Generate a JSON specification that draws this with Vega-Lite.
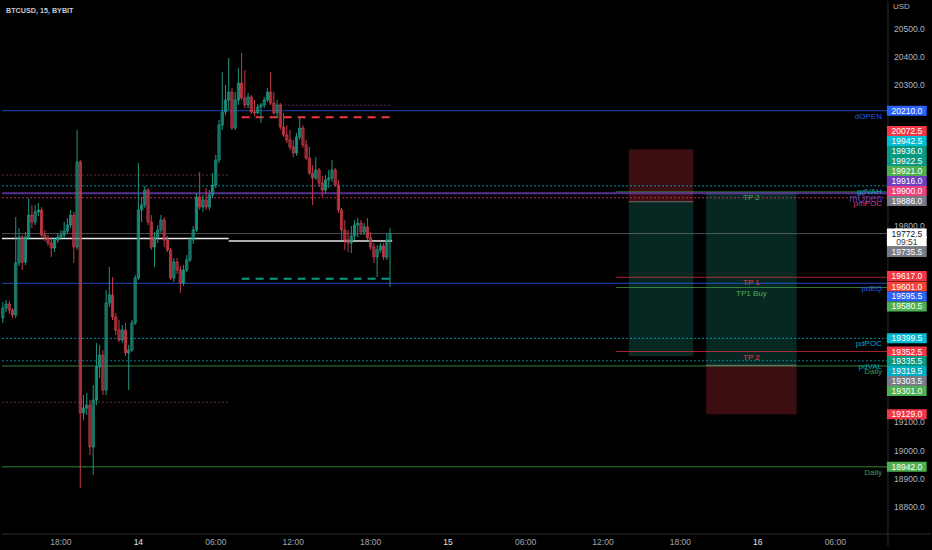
{
  "$schema": "https://vega.github.io/schema/vega-lite/v6.json",
  "width": 932,
  "height": 550,
  "padding": 0,
  "autosize": {"type": "fit", "contains": "padding"},
  "background": "#000000",
  "title": {"text": "BTCUSD, 15, BYBIT", "anchor": "start", "frame": "group", "orient": "top", "offset": -14, "dx": 5, "fontSize": 7.2, "fontWeight": "bold", "font": "Liberation Sans", "color": "#c8cbd3"},
  "config": {"view": {"stroke": null}, "font": "Liberation Sans"},
  "datasets": {
    "candles": [
      {"t":"2022-10-13T13:30Z","o":19472,"h":19529,"l":19454,"c":19507.5},
      {"t":"2022-10-13T13:45Z","o":19507.5,"h":19536,"l":19493,"c":19522},
      {"t":"2022-10-13T14:00Z","o":19522,"h":19532,"l":19486,"c":19500},
      {"t":"2022-10-13T14:15Z","o":19500,"h":19507.5,"l":19472,"c":19482.5},
      {"t":"2022-10-13T14:30Z","o":19482.5,"h":19831.5,"l":19472,"c":19668},
      {"t":"2022-10-13T14:45Z","o":19668,"h":19792,"l":19657,"c":19760},
      {"t":"2022-10-13T15:00Z","o":19760,"h":19767.5,"l":19643,"c":19671},
      {"t":"2022-10-13T15:15Z","o":19671,"h":19778,"l":19660.5,"c":19760},
      {"t":"2022-10-13T15:30Z","o":19760,"h":19899,"l":19750,"c":19838.5},
      {"t":"2022-10-13T15:45Z","o":19838.5,"h":19874,"l":19792,"c":19814},
      {"t":"2022-10-13T16:00Z","o":19814,"h":19874,"l":19803,"c":19849.5},
      {"t":"2022-10-13T16:15Z","o":19849.5,"h":19881.5,"l":19835,"c":19856.5},
      {"t":"2022-10-13T16:30Z","o":19856.5,"h":19867,"l":19760,"c":19767.5},
      {"t":"2022-10-13T16:45Z","o":19767.5,"h":19785,"l":19746,"c":19757},
      {"t":"2022-10-13T17:00Z","o":19757,"h":19767.5,"l":19728,"c":19739},
      {"t":"2022-10-13T17:15Z","o":19739,"h":19757,"l":19689,"c":19721},
      {"t":"2022-10-13T17:30Z","o":19721,"h":19757,"l":19707,"c":19750},
      {"t":"2022-10-13T17:45Z","o":19750,"h":19774.5,"l":19739,"c":19760},
      {"t":"2022-10-13T18:00Z","o":19760,"h":19785,"l":19750,"c":19767.5},
      {"t":"2022-10-13T18:15Z","o":19767.5,"h":19814,"l":19757,"c":19781.5},
      {"t":"2022-10-13T18:30Z","o":19781.5,"h":19828,"l":19771,"c":19803},
      {"t":"2022-10-13T18:45Z","o":19803,"h":19856.5,"l":19792,"c":19838.5},
      {"t":"2022-10-13T19:00Z","o":19838.5,"h":19849.5,"l":19668,"c":19724.5},
      {"t":"2022-10-13T19:15Z","o":19724.5,"h":20141.5,"l":19714,"c":20027.5},
      {"t":"2022-10-13T19:30Z","o":20027.5,"h":20034.5,"l":18866.5,"c":19133.5},
      {"t":"2022-10-13T19:45Z","o":19133.5,"h":19197.5,"l":19108.5,"c":19151.5},
      {"t":"2022-10-13T20:00Z","o":19151.5,"h":19205,"l":19126.5,"c":19162},
      {"t":"2022-10-13T20:15Z","o":19162,"h":19180,"l":18984,"c":19012.5},
      {"t":"2022-10-13T20:30Z","o":19012.5,"h":19233,"l":18913,"c":19180},
      {"t":"2022-10-13T20:45Z","o":19180,"h":19383,"l":19162,"c":19297.5},
      {"t":"2022-10-13T21:00Z","o":19297.5,"h":19376,"l":19258,"c":19340},
      {"t":"2022-10-13T21:15Z","o":19340,"h":19358,"l":19197.5,"c":19215.5},
      {"t":"2022-10-13T21:30Z","o":19215.5,"h":19571.5,"l":19197.5,"c":19525.5},
      {"t":"2022-10-13T21:45Z","o":19525.5,"h":19653.5,"l":19511,"c":19554},
      {"t":"2022-10-13T22:00Z","o":19554,"h":19618,"l":19465,"c":19475.5},
      {"t":"2022-10-13T22:15Z","o":19475.5,"h":19490,"l":19411.5,"c":19429},
      {"t":"2022-10-13T22:30Z","o":19429,"h":19465,"l":19386.5,"c":19393.5},
      {"t":"2022-10-13T22:45Z","o":19393.5,"h":19447,"l":19383,"c":19429},
      {"t":"2022-10-13T23:00Z","o":19429,"h":19454,"l":19336.5,"c":19347.5},
      {"t":"2022-10-13T23:15Z","o":19347.5,"h":19376,"l":19215.5,"c":19358},
      {"t":"2022-10-13T23:30Z","o":19358,"h":19465,"l":19351,"c":19454},
      {"t":"2022-10-13T23:45Z","o":19454,"h":19625,"l":19447,"c":19614.5},
      {"t":"2022-10-14T00:00Z","o":19614.5,"h":20024,"l":19607,"c":19856.5},
      {"t":"2022-10-14T00:15Z","o":19856.5,"h":19903,"l":19814,"c":19874.5},
      {"t":"2022-10-14T00:30Z","o":19874.5,"h":19942,"l":19863.5,"c":19927.5},
      {"t":"2022-10-14T00:45Z","o":19927.5,"h":19935,"l":19803,"c":19814},
      {"t":"2022-10-14T01:00Z","o":19814,"h":19838.5,"l":19714,"c":19724.5},
      {"t":"2022-10-14T01:15Z","o":19724.5,"h":19778,"l":19653.5,"c":19760},
      {"t":"2022-10-14T01:30Z","o":19760,"h":19803,"l":19739,"c":19785.5},
      {"t":"2022-10-14T01:45Z","o":19785.5,"h":19838.5,"l":19774.5,"c":19821},
      {"t":"2022-10-14T02:00Z","o":19821,"h":19831.5,"l":19724.5,"c":19750},
      {"t":"2022-10-14T02:15Z","o":19750,"h":19764,"l":19707,"c":19714},
      {"t":"2022-10-14T02:30Z","o":19714,"h":19721,"l":19607,"c":19614.5},
      {"t":"2022-10-14T02:45Z","o":19614.5,"h":19685.5,"l":19600,"c":19671.5},
      {"t":"2022-10-14T03:00Z","o":19671.5,"h":19685.5,"l":19628.5,"c":19643},
      {"t":"2022-10-14T03:15Z","o":19643,"h":19657,"l":19561,"c":19596.5},
      {"t":"2022-10-14T03:30Z","o":19596.5,"h":19660.5,"l":19586,"c":19643},
      {"t":"2022-10-14T03:45Z","o":19643,"h":19696,"l":19635.5,"c":19678.5},
      {"t":"2022-10-14T04:00Z","o":19678.5,"h":19760,"l":19671.5,"c":19750},
      {"t":"2022-10-14T04:15Z","o":19750,"h":19799.5,"l":19735.5,"c":19785.5},
      {"t":"2022-10-14T04:30Z","o":19785.5,"h":19917,"l":19778,"c":19903},
      {"t":"2022-10-14T04:45Z","o":19903,"h":19992,"l":19856.5,"c":19867},
      {"t":"2022-10-14T05:00Z","o":19867,"h":19910,"l":19849.5,"c":19892},
      {"t":"2022-10-14T05:15Z","o":19892,"h":19935,"l":19856.5,"c":19867},
      {"t":"2022-10-14T05:30Z","o":19867,"h":19927.5,"l":19856.5,"c":19910},
      {"t":"2022-10-14T05:45Z","o":19910,"h":19988,"l":19899,"c":19945.5},
      {"t":"2022-10-14T06:00Z","o":19945.5,"h":20052.5,"l":19935,"c":20034.5},
      {"t":"2022-10-14T06:15Z","o":20034.5,"h":20177,"l":20024,"c":20159},
      {"t":"2022-10-14T06:30Z","o":20159,"h":20348,"l":20141.5,"c":20205.5},
      {"t":"2022-10-14T06:45Z","o":20205.5,"h":20301.5,"l":20195,"c":20248},
      {"t":"2022-10-14T07:00Z","o":20248,"h":20398,"l":20212.5,"c":20276.5},
      {"t":"2022-10-14T07:15Z","o":20276.5,"h":20291,"l":20141.5,"c":20148.5},
      {"t":"2022-10-14T07:30Z","o":20148.5,"h":20276.5,"l":20141.5,"c":20248},
      {"t":"2022-10-14T07:45Z","o":20248,"h":20362,"l":20230.5,"c":20308.5},
      {"t":"2022-10-14T08:00Z","o":20308.5,"h":20415.5,"l":20248,"c":20255.5},
      {"t":"2022-10-14T08:15Z","o":20255.5,"h":20355,"l":20219.5,"c":20230.5},
      {"t":"2022-10-14T08:30Z","o":20230.5,"h":20273,"l":20219.5,"c":20259},
      {"t":"2022-10-14T08:45Z","o":20259,"h":20266,"l":20198.5,"c":20205.5},
      {"t":"2022-10-14T09:00Z","o":20205.5,"h":20248,"l":20191,"c":20202},
      {"t":"2022-10-14T09:15Z","o":20202,"h":20234,"l":20198.5,"c":20223.5},
      {"t":"2022-10-14T09:30Z","o":20223.5,"h":20237.5,"l":20166.5,"c":20230.5},
      {"t":"2022-10-14T09:45Z","o":20230.5,"h":20259,"l":20219.5,"c":20248},
      {"t":"2022-10-14T10:00Z","o":20248,"h":20291,"l":20241,"c":20276.5},
      {"t":"2022-10-14T10:15Z","o":20276.5,"h":20348,"l":20230.5,"c":20237.5},
      {"t":"2022-10-14T10:30Z","o":20237.5,"h":20276.5,"l":20195,"c":20202},
      {"t":"2022-10-14T10:45Z","o":20202,"h":20248,"l":20184,"c":20230.5},
      {"t":"2022-10-14T11:00Z","o":20230.5,"h":20237.5,"l":20141.5,"c":20152},
      {"t":"2022-10-14T11:15Z","o":20152,"h":20202,"l":20116.5,"c":20123.5},
      {"t":"2022-10-14T11:30Z","o":20123.5,"h":20159,"l":20095,"c":20106},
      {"t":"2022-10-14T11:45Z","o":20106,"h":20141.5,"l":20070,"c":20081},
      {"t":"2022-10-14T12:00Z","o":20081,"h":20106,"l":20045,"c":20059.5},
      {"t":"2022-10-14T12:15Z","o":20059.5,"h":20130.5,"l":20049,"c":20116.5},
      {"t":"2022-10-14T12:30Z","o":20116.5,"h":20184,"l":20106,"c":20148.5},
      {"t":"2022-10-14T12:45Z","o":20148.5,"h":20159,"l":20077.5,"c":20088},
      {"t":"2022-10-14T13:00Z","o":20088,"h":20106,"l":20034.5,"c":20041.5},
      {"t":"2022-10-14T13:15Z","o":20041.5,"h":20081,"l":19981,"c":19988},
      {"t":"2022-10-14T13:30Z","o":19988,"h":20016.5,"l":19874.5,"c":19970.5},
      {"t":"2022-10-14T13:45Z","o":19970.5,"h":20045,"l":19963.5,"c":19999},
      {"t":"2022-10-14T14:00Z","o":19999,"h":20006,"l":19938.5,"c":19952.5},
      {"t":"2022-10-14T14:15Z","o":19952.5,"h":19977.5,"l":19903,"c":19927.5},
      {"t":"2022-10-14T14:30Z","o":19927.5,"h":19981,"l":19917,"c":19963.5},
      {"t":"2022-10-14T14:45Z","o":19963.5,"h":19999,"l":19935,"c":19970.5},
      {"t":"2022-10-14T15:00Z","o":19970.5,"h":20034.5,"l":19956,"c":19999},
      {"t":"2022-10-14T15:15Z","o":19999,"h":20006,"l":19938.5,"c":19945.5},
      {"t":"2022-10-14T15:30Z","o":19945.5,"h":19963.5,"l":19846,"c":19856.5},
      {"t":"2022-10-14T15:45Z","o":19856.5,"h":19863.5,"l":19750,"c":19785.5},
      {"t":"2022-10-14T16:00Z","o":19785.5,"h":19821,"l":19714,"c":19750},
      {"t":"2022-10-14T16:15Z","o":19750,"h":19785.5,"l":19707,"c":19739},
      {"t":"2022-10-14T16:30Z","o":19739,"h":19799.5,"l":19703.5,"c":19764},
      {"t":"2022-10-14T16:45Z","o":19764,"h":19821,"l":19750,"c":19803},
      {"t":"2022-10-14T17:00Z","o":19803,"h":19828,"l":19760,"c":19810},
      {"t":"2022-10-14T17:15Z","o":19810,"h":19821,"l":19767.5,"c":19778},
      {"t":"2022-10-14T17:30Z","o":19778,"h":19810,"l":19767.5,"c":19796},
      {"t":"2022-10-14T17:45Z","o":19796,"h":19828,"l":19750,"c":19757},
      {"t":"2022-10-14T18:00Z","o":19757,"h":19778,"l":19714,"c":19724.5},
      {"t":"2022-10-14T18:15Z","o":19724.5,"h":19739,"l":19668,"c":19689},
      {"t":"2022-10-14T18:30Z","o":19689,"h":19732,"l":19618,"c":19714},
      {"t":"2022-10-14T18:45Z","o":19714,"h":19739,"l":19703.5,"c":19728.5},
      {"t":"2022-10-14T19:00Z","o":19728.5,"h":19739,"l":19678.5,"c":19689},
      {"t":"2022-10-14T19:15Z","o":19689,"h":19774.5,"l":19678.5,"c":19750},
      {"t":"2022-10-14T19:30Z","o":19750,"h":19792.5,"l":19582.5,"c":19772.5}
    ],
    "levels": [
      {"name":"TP2 buy","kind":"target","p":19921,"t":"2022-10-15T13:00Z","t2":"2022-10-16T10:05Z","label":"TP 2"},
      {"name":"TP1 sell","kind":"target","p":19617,"t":"2022-10-15T13:00Z","t2":"2022-10-16T10:05Z","label":"TP 1"},
      {"name":"TP1 buy","kind":"target","p":19580.5,"t":"2022-10-15T13:00Z","t2":"2022-10-16T10:05Z","label":"TP1 Buy"},
      {"name":"TP2 sell","kind":"target","p":19352.5,"t":"2022-10-15T13:00Z","t2":"2022-10-16T10:05Z","label":"TP 2"},
      {"name":"entry","kind":"plan","p":19886,"t":"2022-10-15T14:00Z","t2":"2022-10-15T19:00Z"},
      {"name":"entry","kind":"plan","p":19303.5,"t":"2022-10-15T20:00Z","t2":"2022-10-16T03:00Z"},
      {"name":"dOPEN","kind":"session","p":20210,"t":"2022-10-13T13:26Z","t2":"2022-10-16T10:05Z","label":"dOPEN"},
      {"name":"pdVAH","kind":"profile","p":19942.5,"t":"2022-10-13T13:26Z","t2":"2022-10-16T10:05Z","label":"pdVAH"},
      {"name":"mOpen","kind":"session","p":19916,"t":"2022-10-13T13:26Z","t2":"2022-10-16T10:05Z","label":"mOpen"},
      {"name":"pmPOC","kind":"profile","p":19900,"t":"2022-10-13T13:26Z","t2":"2022-10-16T10:05Z","label":"pmPOC"},
      {"name":"lastline","kind":"session","p":19772.5,"t":"2022-10-13T13:26Z","t2":"2022-10-16T10:05Z"},
      {"name":"pdEQ","kind":"session","p":19595.5,"t":"2022-10-13T13:26Z","t2":"2022-10-16T10:05Z","label":"pdEQ"},
      {"name":"pdPOC","kind":"profile","p":19399.5,"t":"2022-10-13T13:26Z","t2":"2022-10-16T10:05Z","label":"pdPOC"},
      {"name":"pdVAL","kind":"profile","p":19319.5,"t":"2022-10-13T13:26Z","t2":"2022-10-16T10:05Z","label":"pdVAL"},
      {"name":"Daily","kind":"session","p":19301,"t":"2022-10-13T13:26Z","t2":"2022-10-16T10:05Z","label":"Daily"},
      {"name":"DailyLow","kind":"session","p":18942,"t":"2022-10-13T13:26Z","t2":"2022-10-16T10:05Z","label":"Daily"},
      {"name":"range","kind":"range","p":20230,"t":"2022-10-14T11:00Z","t2":"2022-10-14T19:40Z"},
      {"name":"range","kind":"range","p":19981,"t":"2022-10-13T13:26Z","t2":"2022-10-14T07:00Z"},
      {"name":"range","kind":"range","p":19172,"t":"2022-10-13T13:26Z","t2":"2022-10-14T07:00Z"},
      {"name":"sell","kind":"order","p":20187,"t":"2022-10-14T08:00Z","t2":"2022-10-14T19:40Z"},
      {"name":"buy","kind":"order","p":19612,"t":"2022-10-14T08:00Z","t2":"2022-10-14T19:40Z"},
      {"name":"hline","kind":"drawing","p":19755,"t":"2022-10-13T13:26Z","t2":"2022-10-14T07:00Z"},
      {"name":"hline","kind":"drawing","p":19746,"t":"2022-10-14T07:00Z","t2":"2022-10-14T19:40Z"}
    ],
    "tags": [
      {"name":"dOPEN","price":20210,"p":20210},
      {"name":"sstop","price":20072.5,"p":20137.8},
      {"name":"pdVAH","price":19942.5,"p":20102.2},
      {"name":"ema1","price":19936,"p":20066.6},
      {"name":"ema2","price":19922.5,"p":20031},
      {"name":"ltarget","price":19921,"p":19995.4},
      {"name":"mOpen","price":19916,"p":19959.8},
      {"name":"pmPOC","price":19900,"p":19924.2},
      {"name":"sentry","price":19886,"p":19888.6},
      {"name":"last","price":19772.5,"p":19772.5,"countdown":"09:51"},
      {"name":"prev","price":19735.5,"p":19707},
      {"name":"TP1 sell","price":19617,"p":19621.5},
      {"name":"sell2","price":19601,"p":19584},
      {"name":"pdEQ","price":19595.5,"p":19548.5},
      {"name":"TP1 buy","price":19580.5,"p":19512.9},
      {"name":"pdPOC","price":19399.5,"p":19399.5},
      {"name":"TP2 sell","price":19352.5,"p":19352.5},
      {"name":"starget","price":19335.5,"p":19318.8},
      {"name":"pdVAL","price":19319.5,"p":19283.2},
      {"name":"lentry","price":19303.5,"p":19247.6},
      {"name":"Daily","price":19301,"p":19212},
      {"name":"lstop","price":19129,"p":19129},
      {"name":"DailyLow","price":18942,"p":18942}
    ],
    "zones": [
      {"zone":"stop","t":"2022-10-15T14:00Z","t2":"2022-10-15T19:00Z","p":20072.5,"p2":19886},
      {"zone":"target","t":"2022-10-15T14:00Z","t2":"2022-10-15T19:00Z","p":19886,"p2":19335.5},
      {"zone":"target","t":"2022-10-15T20:00Z","t2":"2022-10-16T03:00Z","p":19921,"p2":19303.5},
      {"zone":"stop","t":"2022-10-15T20:00Z","t2":"2022-10-16T03:00Z","p":19303.5,"p2":19129}
    ],
    "yticks": [
      {"p":20500},{"p":20400},{"p":20300},{"p":19800},{"p":19100},{"p":19000},{"p":18900},{"p":18800}
    ],
    "xticks": [
      {"t":"2022-10-13T18:00Z","label":"18:00"},
      {"t":"2022-10-14T00:00Z","label":"14"},
      {"t":"2022-10-14T06:00Z","label":"06:00"},
      {"t":"2022-10-14T12:00Z","label":"12:00"},
      {"t":"2022-10-14T18:00Z","label":"18:00"},
      {"t":"2022-10-15T00:00Z","label":"15"},
      {"t":"2022-10-15T06:00Z","label":"06:00"},
      {"t":"2022-10-15T12:00Z","label":"12:00"},
      {"t":"2022-10-15T18:00Z","label":"18:00"},
      {"t":"2022-10-16T00:00Z","label":"16"},
      {"t":"2022-10-16T06:00Z","label":"06:00"}
    ]
  },
  "layer": [
    {
      "data": {"name": "zones"},
      "mark": {"type": "rect", "opacity": 0.25},
      "encoding": {
        "x": {"field": "t", "type": "temporal", "axis": null, "scale": {"type": "utc", "nice": false, "padding": 0, "domain": [{"year":2022,"month":10,"date":13,"hours":13,"minutes":21,"seconds":22,"utc":true},{"year":2022,"month":10,"date":16,"hours":13,"minutes":29,"seconds":40,"utc":true}]}},
        "x2": {"field": "t2"},
        "y": {"field": "p", "type": "quantitative", "axis": null, "scale": {"domain": [18645.8, 20604.3], "nice": false, "zero": false, "padding": 0}},
        "y2": {"field": "p2"},
        "color": {"condition": {"test": "datum.zone == 'stop'", "value": "#f23645"}, "value": "#1a9e88"}
      }
    },
    {
      "data": {"name": "levels"},
      "mark": {"type": "rule"},
      "encoding": {
        "x": {"field": "t", "type": "temporal", "axis": null, "scale": {"type": "utc", "nice": false, "padding": 0, "domain": [{"year":2022,"month":10,"date":13,"hours":13,"minutes":21,"seconds":22,"utc":true},{"year":2022,"month":10,"date":16,"hours":13,"minutes":29,"seconds":40,"utc":true}]}},
        "x2": {"field": "t2"},
        "y": {"field": "p", "type": "quantitative", "axis": null, "scale": {"domain": [18645.8, 20604.3], "nice": false, "zero": false, "padding": 0}},
        "color": {"field": "name", "type": "nominal", "legend": null, "scale": {"domain": ["dOPEN","pdVAH","mOpen","pmPOC","lastline","pdEQ","pdPOC","pdVAL","Daily","DailyLow","range","sell","buy","hline","TP1 sell","TP1 buy","TP2 sell","TP2 buy","entry","sstop","ema1","ema2","ltarget","sentry","last","prev","sell2","starget","lentry","lstop"], "range": ["#2962ff","#00bcd4","#7040c0","#ec407a","#6a6d78","#2962ff","#00bcd4","#00acc1","#4caf50","#4caf50","#7a4450","#f23645","#089981","#e8e8e8","#f23645","#4caf50","#f23645","#4caf50","#9598a1","#f23645","#089981","#089981","#4caf50","#787b86","#ffffff","#787b86","#f44336","#089981","#787b86","#f23645"]}},
        "strokeDash": {"field": "kind", "type": "nominal", "legend": null, "scale": {"domain": ["session","target","plan","profile","range","order","drawing"], "range": [[1,0],[1,0],[1,0],[2,2],[2,2],[8,6],[1,0]]}},
        "strokeWidth": {"condition": [{"test": "datum.kind == 'order' || datum.name == 'mOpen'", "value": 2}, {"test": "datum.kind == 'drawing'", "value": 1.5}], "value": 1},
        "opacity": {"condition": {"test": "datum.kind == 'order' || datum.kind == 'drawing'", "value": 1}, "value": 0.75}
      }
    },
    {
      "data": {"values": [{"edge": "price axis"}]},
      "mark": {"type": "rule", "color": "#2a2e39", "strokeWidth": 1},
      "encoding": {
        "x": {"datum": {"year":2022,"month":10,"date":16,"hours":10,"minutes":5,"utc":true}, "type": "temporal", "axis": null, "scale": {"type": "utc", "nice": false, "padding": 0, "domain": [{"year":2022,"month":10,"date":13,"hours":13,"minutes":21,"seconds":22,"utc":true},{"year":2022,"month":10,"date":16,"hours":13,"minutes":29,"seconds":40,"utc":true}]}},
        "y": {"datum": 18660, "type": "quantitative", "axis": null, "scale": {"domain": [18645.8, 20604.3], "nice": false, "zero": false, "padding": 0}},
        "y2": {"datum": 20600}
      }
    },
    {
      "data": {"values": [{"edge": "time axis"}]},
      "mark": {"type": "rule", "color": "#2a2e39", "strokeWidth": 1},
      "encoding": {
        "x": {"datum": {"year":2022,"month":10,"date":13,"hours":13,"minutes":26,"utc":true}, "type": "temporal", "axis": null, "scale": {"type": "utc", "nice": false, "padding": 0, "domain": [{"year":2022,"month":10,"date":13,"hours":13,"minutes":21,"seconds":22,"utc":true},{"year":2022,"month":10,"date":16,"hours":13,"minutes":29,"seconds":40,"utc":true}]}},
        "x2": {"datum": {"year":2022,"month":10,"date":16,"hours":13,"minutes":25,"utc":true}},
        "y": {"datum": 18702.7, "type": "quantitative", "axis": null, "scale": {"domain": [18645.8, 20604.3], "nice": false, "zero": false, "padding": 0}}
      }
    },
    {
      "data": {"name": "xticks"},
      "mark": {"type": "text", "align": "center", "baseline": "middle", "fontSize": 8.5, "font": "Liberation Sans"},
      "encoding": {
        "x": {"field": "t", "type": "temporal", "axis": null, "scale": {"type": "utc", "nice": false, "padding": 0, "domain": [{"year":2022,"month":10,"date":13,"hours":13,"minutes":21,"seconds":22,"utc":true},{"year":2022,"month":10,"date":16,"hours":13,"minutes":29,"seconds":40,"utc":true}]}},
        "y": {"datum": 18674, "type": "quantitative", "axis": null, "scale": {"domain": [18645.8, 20604.3], "nice": false, "zero": false, "padding": 0}},
        "text": {"field": "label"},
        "color": {"condition": {"test": "length(datum.label) < 3", "value": "#e0e3eb"}, "value": "#a3a6af"},
        "fontWeight": {"condition": {"test": "length(datum.label) < 3", "value": "bold"}, "value": "normal"}
      }
    },
    {
      "data": {"name": "yticks"},
      "mark": {"type": "text", "align": "left", "baseline": "middle", "fontSize": 8.5, "font": "Liberation Sans", "color": "#b2b5be"},
      "encoding": {
        "x": {"datum": {"year":2022,"month":10,"date":16,"hours":10,"minutes":33,"utc":true}, "type": "temporal", "axis": null, "scale": {"type": "utc", "nice": false, "padding": 0, "domain": [{"year":2022,"month":10,"date":13,"hours":13,"minutes":21,"seconds":22,"utc":true},{"year":2022,"month":10,"date":16,"hours":13,"minutes":29,"seconds":40,"utc":true}]}},
        "y": {"field": "p", "type": "quantitative", "axis": null, "scale": {"domain": [18645.8, 20604.3], "nice": false, "zero": false, "padding": 0}},
        "text": {"field": "p", "type": "quantitative", "format": ".1f"}
      }
    },
    {
      "data": {"values": [{"label": "USD"}]},
      "mark": {"type": "text", "align": "left", "baseline": "middle", "fontSize": 8, "font": "Liberation Sans", "color": "#b2b5be"},
      "encoding": {
        "x": {"datum": {"year":2022,"month":10,"date":16,"hours":10,"minutes":28,"utc":true}, "type": "temporal", "axis": null, "scale": {"type": "utc", "nice": false, "padding": 0, "domain": [{"year":2022,"month":10,"date":13,"hours":13,"minutes":21,"seconds":22,"utc":true},{"year":2022,"month":10,"date":16,"hours":13,"minutes":29,"seconds":40,"utc":true}]}},
        "y": {"datum": 20579, "type": "quantitative", "axis": null, "scale": {"domain": [18645.8, 20604.3], "nice": false, "zero": false, "padding": 0}},
        "text": {"field": "label"}
      }
    },
    {
      "data": {"name": "tags"},
      "transform": [{"filter": "datum.name != 'last'"}],
      "mark": {"type": "rule", "strokeWidth": 10, "strokeCap": "butt", "opacity": 1},
      "encoding": {
        "x": {"datum": {"year":2022,"month":10,"date":16,"hours":10,"minutes":0,"utc":true}, "type": "temporal", "axis": null, "scale": {"type": "utc", "nice": false, "padding": 0, "domain": [{"year":2022,"month":10,"date":13,"hours":13,"minutes":21,"seconds":22,"utc":true},{"year":2022,"month":10,"date":16,"hours":13,"minutes":29,"seconds":40,"utc":true}]}},
        "x2": {"datum": {"year":2022,"month":10,"date":16,"hours":13,"minutes":5,"utc":true}},
        "y": {"field": "p", "type": "quantitative", "axis": null, "scale": {"domain": [18645.8, 20604.3], "nice": false, "zero": false, "padding": 0}},
        "color": {"field": "name", "type": "nominal", "legend": null, "scale": {"domain": ["dOPEN","pdVAH","mOpen","pmPOC","lastline","pdEQ","pdPOC","pdVAL","Daily","DailyLow","range","sell","buy","hline","TP1 sell","TP1 buy","TP2 sell","TP2 buy","entry","sstop","ema1","ema2","ltarget","sentry","last","prev","sell2","starget","lentry","lstop"], "range": ["#2962ff","#00bcd4","#7040c0","#ec407a","#6a6d78","#2962ff","#00bcd4","#00acc1","#4caf50","#4caf50","#7a4450","#f23645","#089981","#e8e8e8","#f23645","#4caf50","#f23645","#4caf50","#9598a1","#f23645","#089981","#089981","#4caf50","#787b86","#ffffff","#787b86","#f44336","#089981","#787b86","#f23645"]}}
      }
    },
    {
      "data": {"name": "tags"},
      "transform": [{"filter": "datum.name == 'last'"}],
      "mark": {"type": "rule", "strokeWidth": 10, "strokeCap": "butt", "color": "#ffffff", "opacity": 1},
      "encoding": {
        "x": {"datum": {"year":2022,"month":10,"date":16,"hours":10,"minutes":0,"utc":true}, "type": "temporal", "axis": null, "scale": {"type": "utc", "nice": false, "padding": 0, "domain": [{"year":2022,"month":10,"date":13,"hours":13,"minutes":21,"seconds":22,"utc":true},{"year":2022,"month":10,"date":16,"hours":13,"minutes":29,"seconds":40,"utc":true}]}},
        "x2": {"datum": {"year":2022,"month":10,"date":16,"hours":13,"minutes":5,"utc":true}},
        "y": {"field": "p", "type": "quantitative", "axis": null, "scale": {"domain": [18645.8, 20604.3], "nice": false, "zero": false, "padding": 0}}
      }
    },
    {
      "data": {"name": "tags"},
      "transform": [{"filter": "datum.name == 'last'"}],
      "mark": {"type": "rule", "strokeWidth": 10, "strokeCap": "butt", "yOffset": 8, "color": "#ffffff", "opacity": 1},
      "encoding": {
        "x": {"datum": {"year":2022,"month":10,"date":16,"hours":10,"minutes":0,"utc":true}, "type": "temporal", "axis": null, "scale": {"type": "utc", "nice": false, "padding": 0, "domain": [{"year":2022,"month":10,"date":13,"hours":13,"minutes":21,"seconds":22,"utc":true},{"year":2022,"month":10,"date":16,"hours":13,"minutes":29,"seconds":40,"utc":true}]}},
        "x2": {"datum": {"year":2022,"month":10,"date":16,"hours":13,"minutes":5,"utc":true}},
        "y": {"field": "p", "type": "quantitative", "axis": null, "scale": {"domain": [18645.8, 20604.3], "nice": false, "zero": false, "padding": 0}}
      }
    },
    {
      "data": {"name": "tags"},
      "mark": {"type": "text", "align": "center", "baseline": "middle", "fontSize": 8.5, "font": "Liberation Sans"},
      "encoding": {
        "x": {"datum": {"year":2022,"month":10,"date":16,"hours":11,"minutes":33,"utc":true}, "type": "temporal", "axis": null, "scale": {"type": "utc", "nice": false, "padding": 0, "domain": [{"year":2022,"month":10,"date":13,"hours":13,"minutes":21,"seconds":22,"utc":true},{"year":2022,"month":10,"date":16,"hours":13,"minutes":29,"seconds":40,"utc":true}]}},
        "y": {"field": "p", "type": "quantitative", "axis": null, "scale": {"domain": [18645.8, 20604.3], "nice": false, "zero": false, "padding": 0}},
        "text": {"field": "price", "type": "quantitative", "format": ".1f"},
        "color": {"condition": {"test": "datum.name == 'last'", "value": "#131722"}, "value": "#ffffff"}
      }
    },
    {
      "data": {"name": "tags"},
      "transform": [{"filter": "datum.name == 'last'"}],
      "mark": {"type": "text", "align": "center", "baseline": "middle", "dy": 8.5, "fontSize": 8.5, "font": "Liberation Sans", "color": "#3a3d47"},
      "encoding": {
        "x": {"datum": {"year":2022,"month":10,"date":16,"hours":11,"minutes":33,"utc":true}, "type": "temporal", "axis": null, "scale": {"type": "utc", "nice": false, "padding": 0, "domain": [{"year":2022,"month":10,"date":13,"hours":13,"minutes":21,"seconds":22,"utc":true},{"year":2022,"month":10,"date":16,"hours":13,"minutes":29,"seconds":40,"utc":true}]}},
        "y": {"field": "p", "type": "quantitative", "axis": null, "scale": {"domain": [18645.8, 20604.3], "nice": false, "zero": false, "padding": 0}},
        "text": {"field": "countdown"}
      }
    },
    {
      "data": {"name": "candles"},
      "mark": {"type": "rule", "strokeWidth": 1},
      "encoding": {
        "x": {"field": "t", "type": "temporal", "axis": null, "scale": {"type": "utc", "nice": false, "padding": 0, "domain": [{"year":2022,"month":10,"date":13,"hours":13,"minutes":21,"seconds":22,"utc":true},{"year":2022,"month":10,"date":16,"hours":13,"minutes":29,"seconds":40,"utc":true}]}},
        "y": {"field": "l", "type": "quantitative", "axis": null, "scale": {"domain": [18645.8, 20604.3], "nice": false, "zero": false, "padding": 0}},
        "y2": {"field": "h"},
        "color": {"condition": {"test": "datum.c >= datum.o", "value": "#1f9683"}, "value": "#c63a48"}
      }
    },
    {
      "data": {"name": "candles"},
      "mark": {"type": "bar", "size": 2.2, "strokeWidth": 0.9, "fillOpacity": 0.2},
      "encoding": {
        "x": {"field": "t", "type": "temporal", "axis": null, "scale": {"type": "utc", "nice": false, "padding": 0, "domain": [{"year":2022,"month":10,"date":13,"hours":13,"minutes":21,"seconds":22,"utc":true},{"year":2022,"month":10,"date":16,"hours":13,"minutes":29,"seconds":40,"utc":true}]}},
        "y": {"field": "o", "type": "quantitative", "axis": null, "scale": {"domain": [18645.8, 20604.3], "nice": false, "zero": false, "padding": 0}},
        "y2": {"field": "c"},
        "color": {"condition": {"test": "datum.c >= datum.o", "value": "#1f9683"}, "value": "#c63a48"},
        "stroke": {"condition": {"test": "datum.c >= datum.o", "value": "#1f9683"}, "value": "#c63a48"}
      }
    },
    {
      "data": {"name": "levels"},
      "transform": [{"filter": "datum.label && datum.kind != 'target'"}],
      "mark": {"type": "text", "align": "right", "baseline": "middle", "dy": 6, "font": "Liberation Sans", "opacity": 0.9},
      "encoding": {
        "x": {"datum": {"year":2022,"month":10,"date":16,"hours":9,"minutes":37,"utc":true}, "type": "temporal", "axis": null, "scale": {"type": "utc", "nice": false, "padding": 0, "domain": [{"year":2022,"month":10,"date":13,"hours":13,"minutes":21,"seconds":22,"utc":true},{"year":2022,"month":10,"date":16,"hours":13,"minutes":29,"seconds":40,"utc":true}]}},
        "y": {"field": "p", "type": "quantitative", "axis": null, "scale": {"domain": [18645.8, 20604.3], "nice": false, "zero": false, "padding": 0}},
        "text": {"field": "label"},
        "size": {"condition": {"test": "datum.name == 'mOpen'", "value": 10}, "value": 8},
        "color": {"field": "name", "type": "nominal", "legend": null, "scale": {"domain": ["dOPEN","pdVAH","mOpen","pmPOC","lastline","pdEQ","pdPOC","pdVAL","Daily","DailyLow","range","sell","buy","hline","TP1 sell","TP1 buy","TP2 sell","TP2 buy","entry","sstop","ema1","ema2","ltarget","sentry","last","prev","sell2","starget","lentry","lstop"], "range": ["#2962ff","#00bcd4","#7040c0","#ec407a","#6a6d78","#2962ff","#00bcd4","#00acc1","#4caf50","#4caf50","#7a4450","#f23645","#089981","#e8e8e8","#f23645","#4caf50","#f23645","#4caf50","#9598a1","#f23645","#089981","#089981","#4caf50","#787b86","#ffffff","#787b86","#f44336","#089981","#787b86","#f23645"]}}
      }
    },
    {
      "data": {"name": "levels"},
      "transform": [{"filter": "datum.kind == 'target'"}],
      "mark": {"type": "text", "align": "center", "baseline": "middle", "dy": 6, "fontSize": 8, "font": "Liberation Sans"},
      "encoding": {
        "x": {"datum": {"year":2022,"month":10,"date":15,"hours":23,"minutes":30,"utc":true}, "type": "temporal", "axis": null, "scale": {"type": "utc", "nice": false, "padding": 0, "domain": [{"year":2022,"month":10,"date":13,"hours":13,"minutes":21,"seconds":22,"utc":true},{"year":2022,"month":10,"date":16,"hours":13,"minutes":29,"seconds":40,"utc":true}]}},
        "y": {"field": "p", "type": "quantitative", "axis": null, "scale": {"domain": [18645.8, 20604.3], "nice": false, "zero": false, "padding": 0}},
        "text": {"field": "label"},
        "color": {"field": "name", "type": "nominal", "legend": null, "scale": {"domain": ["dOPEN","pdVAH","mOpen","pmPOC","lastline","pdEQ","pdPOC","pdVAL","Daily","DailyLow","range","sell","buy","hline","TP1 sell","TP1 buy","TP2 sell","TP2 buy","entry","sstop","ema1","ema2","ltarget","sentry","last","prev","sell2","starget","lentry","lstop"], "range": ["#2962ff","#00bcd4","#7040c0","#ec407a","#6a6d78","#2962ff","#00bcd4","#00acc1","#4caf50","#4caf50","#7a4450","#f23645","#089981","#e8e8e8","#f23645","#4caf50","#f23645","#4caf50","#9598a1","#f23645","#089981","#089981","#4caf50","#787b86","#ffffff","#787b86","#f44336","#089981","#787b86","#f23645"]}}
      }
    }
  ]
}
